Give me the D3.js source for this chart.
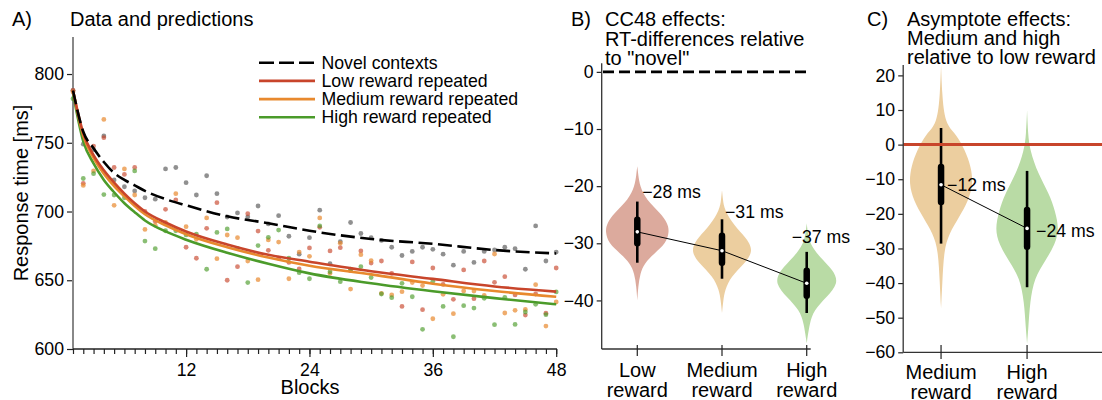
<!DOCTYPE html>
<html><head><meta charset="utf-8">
<script src="https://cdn.jsdelivr.net/npm/d3@7"></script>
<style>
body{margin:0;background:#fff}
svg text{font-family:"Liberation Sans",Arial,sans-serif;fill:#000}
</style></head><body>
<svg id="chart" width="1102" height="400"></svg>
<script>
// ---------- Panel A: mean RT per block and model predictions ----------
const blocks = d3.range(1, 49);
const novelRT  = [788,749,745,755,723,718,715,710,709,731,732,721,712,726,713,696,699,696,704,691,697,682,669,681,701,662,678,692,684,681,679,674,668,671,674,672.5,669,661,671,663,671,672,674,673,658,689.5,664,670.5];
const lowRT    = [788,720.5,747.6,753.7,732,727,732,700,693,701.6,708.4,674,666,687.8,706.4,650,659.9,698.4,685.8,671.8,666,663,658.2,673.5,688.5,671.3,673.7,657,671.3,662.5,664,655,631,663.3,628.6,658.9,647,636.1,657.5,636.6,664,648.5,652.6,639.3,624.7,640,626,658.9];
const mediumRT = [787,719,729.5,767,704.5,731,712,687,690,692,713,689,679.8,695.3,665.7,682.9,681,664,650.4,679.3,677.8,651.1,670.5,667.4,695.3,655,676.9,643.6,668.6,664.3,640.5,639.3,641.7,648.3,646.1,622,639.8,625.7,642.2,642.2,639,669.1,626.2,628.1,628.8,646.8,616.7,634.2];
const highRT   = [782,724,727.5,712.3,712,710,729.5,678.5,673,686,686,683,683.6,658,684.8,687.3,673.2,648.3,675.2,681.2,686.5,666,655.5,651.1,689.5,656.2,649,658,659.9,652,640,637.3,647.8,638,614.3,649.2,631,608.9,631.5,629.8,636.9,617.7,637.6,617.9,626.9,632.5,625,641.5];

// model predictions at selected blocks
const fitBlocks = [1,2,3,4,5,6,7,8,10,12,16,20,24,30,36,42,48];
const novelFit  = [788,758,746,736,728,723,719,715,709,704.5,696.5,691.5,686,680,676.5,672,669.5];
const lowFit    = [788,757,741,730,721,713,706,700,692,685.5,676,668.5,663.5,656.5,651,645.5,641.7];
const mediumFit = [788,755,739,727.5,718.5,711,704,698,690,683.5,674,666.5,660.5,654.3,647.5,642.2,638];
const highFit   = [786,751,735,723,714,706,699.5,693.5,685.5,679.5,670,662,655,647.8,642,637,632.5];

const legendLabels = ["Novel contexts","Low reward repeated","Medium reward repeated","High reward repeated"];
const yTicksA = [600,650,700,750,800];
const xTicksA = [12,24,36,48];

// ---------- Panel B: CC48 effects relative to novel ----------
const catsB = ["Low reward","Medium reward","High reward"];
const medianB = [-28.0,-31.3,-37.0];
const boxB = [[-25.9,-30.0],[-28.7,-33.4],[-34.8,-39.2]];
const whiskerB = [[-22.7,-33.4],[-25.8,-36.2],[-31.5,-42.2]];
// density profiles: [value, relative density]
const densityB = [
  [[-16.5,0],[-18,0.03],[-20,0.08],[-22.4,0.28],[-24.7,0.72],[-26.5,0.95],[-28,1],[-30,0.9],[-31.8,0.53],[-33.5,0.22],[-35.3,0.09],[-37.5,0.03],[-40,0]],
  [[-20.7,0],[-22.4,0.03],[-24.1,0.07],[-27,0.39],[-28.8,0.72],[-31.2,1],[-33.5,0.72],[-35.8,0.28],[-38.2,0.09],[-40,0.04],[-42.2,0]],
  [[-26.5,0],[-28,0.03],[-30,0.09],[-32.4,0.4],[-34.7,0.84],[-37,1],[-39.4,0.62],[-41.7,0.22],[-44,0.09],[-47.5,0]]
];
const yTicksB = [0,-10,-20,-30,-40];

// ---------- Panel C: asymptote effects relative to low reward ----------
const catsC = ["Medium reward","High reward"];
const medianC = [-11.6,-24.2];
const boxC = [[-6.5,-16.6],[-18.9,-29.5]];
const whiskerC = [[4.8,-28.6],[-7.6,-41.2]];
const densityC = [
  [[23,0],[15,0.03],[5.9,0.12],[3.1,0.47],[-1.6,0.75],[-6.5,0.94],[-11.3,1],[-16.1,0.86],[-21,0.56],[-25.7,0.25],[-30.5,0.09],[-40,0.04],[-47.3,0]],
  [[9.9,0],[3,0.03],[-1.6,0.09],[-8.4,0.34],[-14.2,0.69],[-19.2,0.88],[-24.4,1],[-28.8,0.88],[-33.7,0.56],[-38.5,0.23],[-45.4,0.09],[-53.1,0.04],[-57.5,0]]
];
const yTicksC = [20,10,0,-10,-20,-30,-40,-50,-60];

// ---------- styling ----------
const cRed = "#c8452b", cOrange = "#e8892e", cGreen = "#4b9b2a", cGray = "#7c7c7c";
const FS = 17.7, FS_BIG = 20;
const svg = d3.select("#chart");
const fmt = d3.format("d");

function styleAxis(g){
  g.select(".domain").remove();
  g.selectAll(".tick line").attr("stroke","#222").attr("stroke-width",1.2);
  g.selectAll(".tick text").attr("font-size",FS).attr("fill","#000");
}

// ===== Panel A =====
const xA = d3.scaleLinear().domain([1,48]).range([73,556.2]);
const yA = d3.scaleLinear().domain([600,827]).range([349,36.9]);
const A = svg.append("g");

A.append("g").attr("transform","translate(73,0)")
  .call(d3.axisLeft(yA).tickValues(yTicksA).tickSize(6).tickPadding(3).tickFormat(fmt))
  .call(styleAxis);
A.append("g").attr("transform","translate(0,349)")
  .call(d3.axisBottom(xA).tickValues(blocks).tickSize(5).tickFormat(""))
  .call(styleAxis);
A.append("g").attr("transform","translate(0,349)")
  .call(d3.axisBottom(xA).tickValues(xTicksA).tickSize(8).tickPadding(6).tickFormat(fmt))
  .call(styleAxis);
A.append("line").attr("x1",73).attr("x2",73).attr("y1",yA.range()[1]).attr("y2",349)
  .attr("stroke","#888").attr("stroke-width",2);
A.append("line").attr("x1",73).attr("x2",557).attr("y1",349).attr("y2",349)
  .attr("stroke","#222").attr("stroke-width",1.3);

const scatter = [
  {v:novelRT, c:cGray, o:0.85},
  {v:lowRT, c:cRed, o:0.65},
  {v:mediumRT, c:cOrange, o:0.7},
  {v:highRT, c:cGreen, o:0.65}
];
scatter.forEach(s=>{
  A.append("g").selectAll("circle").data(s.v).join("circle")
    .attr("cx",(d,i)=>xA(blocks[i])).attr("cy",d=>yA(d)).attr("r",2.4)
    .attr("fill",s.c).attr("fill-opacity",s.o);
});

const fitLine = vals => d3.line().curve(d3.curveMonotoneX)
  .x((d,i)=>xA(fitBlocks[i])).y(d=>yA(d))(vals);
const fits = [
  {v:novelFit, c:"#000", dash:"14,5.5"},
  {v:lowFit, c:cRed},
  {v:mediumFit, c:cOrange},
  {v:highFit, c:cGreen}
];
// draw the three repeated fits first, then the novel dashed line on top
[3,2,1,0].forEach(k=>{
  const f = fits[k];
  A.append("path").attr("d",fitLine(f.v)).attr("fill","none")
    .attr("stroke",f.c).attr("stroke-width",2.6)
    .attr("stroke-dasharray",f.dash||null);
});

// legend
const legY = d3.scaleLinear().domain([0,3]).range([62.7,117.3]);
legendLabels.forEach((t,i)=>{
  A.append("line").attr("x1",259).attr("x2",315).attr("y1",legY(i)).attr("y2",legY(i))
    .attr("stroke",fits[i].c).attr("stroke-width",2.6)
    .attr("stroke-dasharray",fits[i].dash?"15,5":null);
  A.append("text").attr("x",321.5).attr("y",legY(i)).attr("dy","0.35em")
    .attr("font-size",FS).text(t);
});

A.append("text").attr("x",12).attr("y",26).attr("font-size",FS_BIG).text("A)");
A.append("text").attr("x",70).attr("y",26).attr("font-size",FS_BIG).text("Data and predictions");
A.append("text").attr("transform","translate(28,193) rotate(-90)").attr("text-anchor","middle")
  .attr("font-size",FS_BIG).text("Response time [ms]");
A.append("text").attr("x",310).attr("y",394).attr("text-anchor","middle")
  .attr("font-size",FS_BIG).text("Blocks");

// ===== violin helper =====
function drawViolins(g, x, y, cats, dens, box, whisk, med, fills, halfW){
  const w = d3.scaleLinear().domain([0,1]).range([0,halfW]);
  cats.forEach((c,i)=>{
    const cx = x(i);
    g.append("path").attr("fill",fills[i])
      .attr("d", d3.area().curve(d3.curveBasis)
        .y(d=>y(d[0])).x0(d=>cx-w(d[1])).x1(d=>cx+w(d[1]))(dens[i]));
  });
  g.append("path").attr("fill","none").attr("stroke","#000").attr("stroke-width",1)
    .attr("d", d3.line().x((d,i)=>x(i)).y(d=>y(d))(med));
  cats.forEach((c,i)=>{
    const cx = x(i);
    g.append("line").attr("x1",cx).attr("x2",cx).attr("y1",y(whisk[i][0])).attr("y2",y(whisk[i][1]))
      .attr("stroke","#000").attr("stroke-width",2.6);
    g.append("line").attr("x1",cx).attr("x2",cx).attr("y1",y(box[i][0])).attr("y2",y(box[i][1]))
      .attr("stroke","#000").attr("stroke-width",6.5).attr("stroke-linecap","round");
    g.append("circle").attr("cx",cx).attr("cy",y(med[i])).attr("r",1.8).attr("fill","#fff");
  });
}
function catLabels(g, x, cats, yBase){
  cats.forEach((c,i)=>{
    const parts = c.split(" ");
    const t = g.append("text").attr("x",x(i)).attr("y",yBase).attr("text-anchor","middle").attr("font-size",FS_BIG);
    parts.forEach((p,j)=> t.append("tspan").attr("x",x(i)).attr("dy", j===0?0:20.5).text(p));
  });
}

// ===== Panel B =====
const xB = d3.scaleLinear().domain([-0.42,2.047]).range([601.7,810.7]);
const yB = d3.scaleLinear().domain([-48.5,1.5]).range([349,63.3]);
const B = svg.append("g");
B.append("g").attr("transform","translate(601.7,0)")
  .call(d3.axisLeft(yB).tickValues(yTicksB).tickSize(5).tickPadding(3).tickFormat(fmt))
  .call(styleAxis);
drawViolins(B, xB, yB, catsB, densityB, boxB, whiskerB, medianB, ["#dcaa9d","#ecce9f","#b9dba5"], 32);
B.append("line").attr("x1",603).attr("x2",810).attr("y1",yB(0)).attr("y2",yB(0))
  .attr("stroke","#000").attr("stroke-width",2.6).attr("stroke-dasharray","11,5");
B.append("line").attr("x1",601.7).attr("x2",601.7).attr("y1",yB.range()[1]).attr("y2",349).attr("stroke","#333").attr("stroke-width",1.3);
B.append("line").attr("x1",601.7).attr("x2",810.7).attr("y1",349).attr("y2",349).attr("stroke","#333").attr("stroke-width",1.3);
catsB.forEach((c,i)=>{
  B.append("line").attr("x1",xB(i)).attr("x2",xB(i)).attr("y1",345).attr("y2",356).attr("stroke","#222").attr("stroke-width",1.2);
});
catLabels(B, xB, catsB, 376.5);
const shiftB = [[5,-40],[3,-39],[-15,-46]];
medianB.forEach((m,i)=>{
  B.append("text").attr("x",xB(i)+shiftB[i][0]).attr("y",yB(m)+shiftB[i][1]).attr("dy","0.35em")
    .attr("font-size",FS).text(fmt(Math.round(m))+" ms");
});
B.append("text").attr("x",571).attr("y",26).attr("font-size",FS_BIG).text("B)");
["CC48 effects:","RT-differences relative","to \"novel\""].forEach((t,i)=>{
  B.append("text").attr("x",605).attr("y",26+i*19.5).attr("font-size",FS_BIG).text(t);
});

// ===== Panel C =====
const xC = d3.scaleLinear().domain([-0.44,1.87]).range([903.2,1101.9]);
const yC = d3.scaleLinear().domain([-60,23]).range([352.3,65]);
const C = svg.append("g");
C.append("g").attr("transform","translate(903.2,0)")
  .call(d3.axisLeft(yC).tickValues(yTicksC).tickSize(5).tickPadding(3).tickFormat(fmt))
  .call(styleAxis);
drawViolins(C, xC, yC, catsC, densityC, boxC, whiskerC, medianC, ["#ecce9f","#b9dba5"], 32);
C.append("line").attr("x1",903.2).attr("x2",1102).attr("y1",yC(0)).attr("y2",yC(0))
  .attr("stroke",cRed).attr("stroke-width",3);
C.append("line").attr("x1",903.2).attr("x2",903.2).attr("y1",yC.range()[1]).attr("y2",352.3).attr("stroke","#333").attr("stroke-width",1.3);
C.append("line").attr("x1",903.2).attr("x2",1102).attr("y1",352.3).attr("y2",352.3).attr("stroke","#333").attr("stroke-width",1.3);
catsC.forEach((c,i)=>{
  C.append("line").attr("x1",xC(i)).attr("x2",xC(i)).attr("y1",345).attr("y2",359).attr("stroke","#222").attr("stroke-width",1.2);
});
catLabels(C, xC, catsC, 378.5);
const shiftC = [[6,0],[9,2.7]];
medianC.forEach((m,i)=>{
  C.append("text").attr("x",xC(i)+shiftC[i][0]).attr("y",yC(m)+shiftC[i][1]).attr("dy","0.35em")
    .attr("font-size",FS).text(fmt(Math.round(m))+" ms");
});
C.append("text").attr("x",867).attr("y",26).attr("font-size",FS_BIG).text("C)");
["Asymptote effects:","Medium and high","relative to low reward"].forEach((t,i)=>{
  C.append("text").attr("x",907).attr("y",26+i*18.8).attr("font-size",FS_BIG).text(t);
});
</script>
</body></html>
